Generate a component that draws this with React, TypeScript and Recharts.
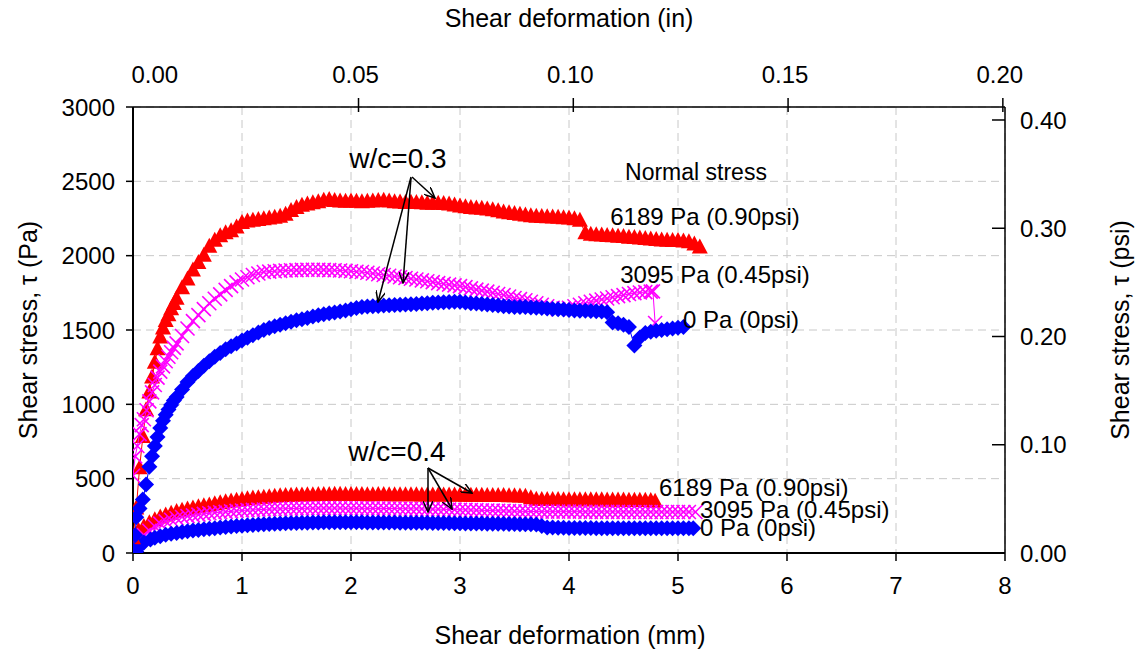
import React from 'react';
import { ScatterChart, Scatter, XAxis, YAxis, CartesianGrid } from 'recharts';

// [shear deformation (mm), shear stress (Pa)]
// w/c = 0.3
const wc03_6189: number[][] = [
  [0, 100], [0.03, 300], [0.06, 570], [0.09, 780], [0.12, 960], [0.15, 1080], [0.175, 1180], [0.2, 1280],
  [0.225, 1370], [0.25, 1450], [0.275, 1510], [0.3, 1560], [0.325, 1600], [0.35, 1640], [0.375, 1675], [0.4, 1710],
  [0.45, 1780], [0.5, 1840], [0.55, 1900], [0.6, 1950], [0.65, 2000], [0.7, 2060], [0.75, 2100], [0.8, 2130],
  [0.85, 2150], [0.9, 2165], [0.95, 2190], [1.0, 2220], [1.05, 2230], [1.1, 2235], [1.15, 2240], [1.2, 2245],
  [1.25, 2250], [1.3, 2255], [1.35, 2262], [1.4, 2275], [1.45, 2300], [1.5, 2320], [1.55, 2335], [1.6, 2345],
  [1.65, 2352], [1.7, 2360], [1.75, 2370], [1.8, 2375], [1.85, 2368], [1.9, 2365], [1.95, 2362], [2.0, 2365],
  [2.05, 2362], [2.1, 2360], [2.15, 2363], [2.2, 2365], [2.25, 2368], [2.3, 2370], [2.35, 2365], [2.4, 2360],
  [2.45, 2358], [2.5, 2355], [2.55, 2356], [2.6, 2355], [2.65, 2352], [2.7, 2350], [2.75, 2350], [2.8, 2350],
  [2.85, 2348], [2.9, 2345], [2.95, 2338], [3.0, 2330], [3.05, 2325], [3.1, 2320], [3.15, 2318], [3.2, 2315],
  [3.25, 2310], [3.3, 2305], [3.35, 2298], [3.4, 2290], [3.45, 2285], [3.5, 2280], [3.55, 2275], [3.6, 2270],
  [3.65, 2265], [3.7, 2262], [3.75, 2260], [3.8, 2258], [3.85, 2256], [3.9, 2255], [3.95, 2252], [4.0, 2250],
  [4.05, 2245], [4.1, 2235], [4.15, 2150], [4.2, 2140], [4.25, 2138], [4.3, 2135], [4.35, 2132], [4.4, 2130],
  [4.45, 2128], [4.5, 2125], [4.55, 2120], [4.6, 2118], [4.65, 2115], [4.7, 2112], [4.75, 2108], [4.8, 2105],
  [4.85, 2102], [4.9, 2100], [4.95, 2099], [5.0, 2098], [5.05, 2095], [5.1, 2090], [5.15, 2075], [5.2, 2055],
];
const wc03_3095: number[][] = [
  [0, 520], [0.02, 650], [0.04, 720], [0.06, 800], [0.08, 860], [0.1, 900], [0.125, 960], [0.15, 1020],
  [0.175, 1080], [0.2, 1130], [0.225, 1180], [0.25, 1220], [0.275, 1255], [0.3, 1290], [0.325, 1320], [0.35, 1350],
  [0.375, 1380], [0.4, 1410], [0.45, 1460], [0.5, 1510], [0.55, 1560], [0.6, 1600], [0.65, 1640], [0.7, 1680],
  [0.75, 1710], [0.8, 1740], [0.85, 1770], [0.9, 1795], [0.95, 1820], [1.0, 1840], [1.05, 1855], [1.1, 1870],
  [1.15, 1880], [1.2, 1890], [1.25, 1893], [1.3, 1895], [1.35, 1898], [1.4, 1900], [1.45, 1902], [1.5, 1903],
  [1.55, 1904], [1.6, 1905], [1.65, 1905], [1.7, 1905], [1.75, 1904], [1.8, 1903], [1.85, 1902], [1.9, 1900],
  [1.95, 1898], [2.0, 1895], [2.05, 1892], [2.1, 1890], [2.15, 1885], [2.2, 1880], [2.25, 1875], [2.3, 1870],
  [2.35, 1865], [2.4, 1860], [2.45, 1855], [2.5, 1850], [2.55, 1845], [2.6, 1840], [2.65, 1834], [2.7, 1828],
  [2.75, 1822], [2.8, 1815], [2.85, 1810], [2.9, 1805], [2.95, 1800], [3.0, 1795], [3.05, 1788], [3.1, 1780],
  [3.15, 1772], [3.2, 1765], [3.25, 1758], [3.3, 1750], [3.35, 1742], [3.4, 1735], [3.45, 1725], [3.5, 1715],
  [3.55, 1708], [3.6, 1700], [3.65, 1690], [3.7, 1680], [3.75, 1670], [3.8, 1660], [3.85, 1650], [3.9, 1640],
  [3.95, 1645], [4.0, 1650], [4.05, 1660], [4.1, 1670], [4.15, 1680], [4.2, 1690], [4.25, 1698], [4.3, 1705],
  [4.35, 1712], [4.4, 1720], [4.45, 1728], [4.5, 1735], [4.55, 1742], [4.6, 1748], [4.65, 1752], [4.7, 1755],
  [4.75, 1758], [4.77, 1760], [4.79, 1547],
];
const wc03_0: number[][] = [
  [0, 20], [0.02, 120], [0.03, 240], [0.06, 300], [0.09, 360], [0.12, 460], [0.15, 580], [0.175, 650],
  [0.2, 720], [0.225, 780], [0.25, 840], [0.275, 890], [0.3, 930], [0.325, 965], [0.35, 995], [0.375, 1025],
  [0.4, 1050], [0.45, 1100], [0.5, 1150], [0.55, 1190], [0.6, 1225], [0.65, 1260], [0.7, 1290], [0.75, 1320],
  [0.8, 1345], [0.85, 1370], [0.9, 1390], [0.95, 1410], [1.0, 1430], [1.05, 1448], [1.1, 1465], [1.15, 1483],
  [1.2, 1500], [1.25, 1513], [1.3, 1525], [1.35, 1535], [1.4, 1545], [1.45, 1555], [1.5, 1565], [1.55, 1572],
  [1.6, 1580], [1.65, 1590], [1.7, 1600], [1.75, 1606], [1.8, 1612], [1.85, 1618], [1.9, 1625], [1.95, 1632],
  [2.0, 1640], [2.05, 1648], [2.1, 1655], [2.15, 1658], [2.2, 1660], [2.25, 1662], [2.3, 1665], [2.35, 1667],
  [2.4, 1668], [2.45, 1670], [2.5, 1672], [2.55, 1673], [2.6, 1675], [2.65, 1678], [2.7, 1680], [2.75, 1683],
  [2.8, 1685], [2.85, 1687], [2.9, 1688], [2.95, 1690], [3.0, 1690], [3.05, 1685], [3.1, 1680], [3.15, 1678],
  [3.2, 1675], [3.25, 1672], [3.3, 1668], [3.35, 1664], [3.4, 1660], [3.45, 1658], [3.5, 1655], [3.55, 1655],
  [3.6, 1655], [3.65, 1652], [3.7, 1650], [3.75, 1648], [3.8, 1645], [3.85, 1642], [3.9, 1640], [3.95, 1638],
  [4.0, 1635], [4.05, 1632], [4.1, 1630], [4.15, 1629], [4.2, 1628], [4.25, 1626], [4.3, 1625], [4.35, 1620],
  [4.4, 1550], [4.45, 1545], [4.5, 1535], [4.55, 1520], [4.6, 1395], [4.65, 1450], [4.7, 1480], [4.75, 1488],
  [4.8, 1495], [4.85, 1500], [4.9, 1505], [4.95, 1510], [5.0, 1515], [5.05, 1520],
];

// w/c = 0.4
const wc04_6189: number[][] = [
  [0, 60], [0.02, 110], [0.05, 150], [0.1, 175], [0.15, 200], [0.2, 220], [0.25, 238], [0.3, 252],
  [0.35, 264], [0.4, 275], [0.45, 284], [0.5, 292], [0.55, 300], [0.6, 307], [0.65, 314], [0.7, 320],
  [0.75, 328], [0.8, 335], [0.85, 341], [0.9, 347], [0.95, 352], [1.0, 357], [1.05, 362], [1.1, 366],
  [1.15, 369], [1.2, 372], [1.25, 375], [1.3, 378], [1.35, 381], [1.4, 383], [1.45, 385], [1.5, 386],
  [1.55, 387], [1.6, 388], [1.65, 389], [1.7, 390], [1.75, 390], [1.8, 390], [1.85, 391], [1.9, 391],
  [1.95, 390], [2.0, 390], [2.05, 390], [2.1, 390], [2.15, 389], [2.2, 389], [2.25, 390], [2.3, 390],
  [2.35, 389], [2.4, 389], [2.45, 388], [2.5, 388], [2.55, 388], [2.6, 388], [2.65, 387], [2.7, 387],
  [2.75, 387], [2.8, 387], [2.85, 386], [2.9, 386], [2.95, 386], [3.0, 386], [3.05, 385], [3.1, 385],
  [3.15, 385], [3.2, 385], [3.25, 384], [3.3, 384], [3.35, 383], [3.4, 383], [3.45, 382], [3.5, 382],
  [3.55, 380], [3.6, 378], [3.65, 368], [3.7, 358], [3.75, 357], [3.8, 356], [3.85, 356], [3.9, 356],
  [3.95, 355], [4.0, 355], [4.05, 355], [4.1, 355], [4.15, 354], [4.2, 354], [4.25, 354], [4.3, 354],
  [4.35, 353], [4.4, 353], [4.45, 353], [4.5, 353], [4.55, 352], [4.6, 352], [4.65, 352], [4.7, 352],
  [4.75, 350], [4.79, 345],
];
const wc04_3095: number[][] = [
  [0, 40], [0.03, 70], [0.06, 90], [0.1, 120], [0.15, 150], [0.2, 178], [0.25, 198], [0.3, 213],
  [0.35, 224], [0.4, 234], [0.45, 242], [0.5, 248], [0.55, 253], [0.6, 258], [0.65, 263], [0.7, 267],
  [0.75, 271], [0.8, 274], [0.85, 277], [0.9, 280], [0.95, 283], [1.0, 286], [1.05, 288], [1.1, 290],
  [1.15, 292], [1.2, 293], [1.25, 295], [1.3, 296], [1.35, 297], [1.4, 298], [1.45, 299], [1.5, 300],
  [1.55, 300], [1.6, 301], [1.65, 301], [1.7, 302], [1.75, 302], [1.8, 302], [1.85, 302], [1.9, 302],
  [1.95, 301], [2.0, 301], [2.05, 301], [2.1, 301], [2.15, 300], [2.2, 300], [2.25, 300], [2.3, 300],
  [2.35, 299], [2.4, 299], [2.45, 298], [2.5, 298], [2.55, 297], [2.6, 297], [2.65, 296], [2.7, 296],
  [2.75, 295], [2.8, 295], [2.85, 294], [2.9, 293], [2.95, 292], [3.0, 291], [3.05, 290], [3.1, 289],
  [3.15, 288], [3.2, 287], [3.25, 286], [3.3, 285], [3.35, 284], [3.4, 283], [3.45, 282], [3.5, 281],
  [3.55, 280], [3.6, 280], [3.65, 279], [3.7, 279], [3.75, 278], [3.8, 278], [3.85, 278], [3.9, 278],
  [3.95, 278], [4.0, 278], [4.05, 278], [4.1, 278], [4.15, 277], [4.2, 277], [4.25, 277], [4.3, 277],
  [4.35, 277], [4.4, 277], [4.45, 277], [4.5, 277], [4.55, 276], [4.6, 276], [4.65, 276], [4.7, 276],
  [4.75, 276], [4.8, 276], [4.85, 276], [4.9, 276], [4.95, 276], [5.0, 276], [5.05, 276], [5.1, 276],
  [5.16, 276],
];
const wc04_0: number[][] = [
  [0, 0], [0.03, 10], [0.06, 45], [0.1, 70], [0.16, 90], [0.2, 102], [0.25, 113], [0.3, 122],
  [0.35, 129], [0.4, 135], [0.45, 141], [0.5, 146], [0.55, 151], [0.6, 155], [0.65, 159], [0.7, 163],
  [0.75, 167], [0.8, 171], [0.85, 175], [0.9, 178], [0.95, 181], [1.0, 184], [1.05, 187], [1.1, 189],
  [1.15, 191], [1.2, 193], [1.25, 195], [1.3, 197], [1.35, 199], [1.4, 200], [1.45, 201], [1.5, 202],
  [1.55, 203], [1.6, 204], [1.65, 205], [1.7, 205], [1.75, 206], [1.8, 206], [1.85, 206], [1.9, 206],
  [1.95, 206], [2.0, 206], [2.05, 206], [2.1, 206], [2.15, 205], [2.2, 205], [2.25, 205], [2.3, 205],
  [2.35, 205], [2.4, 205], [2.45, 204], [2.5, 204], [2.55, 204], [2.6, 204], [2.65, 203], [2.7, 203],
  [2.75, 202], [2.8, 202], [2.85, 201], [2.9, 201], [2.95, 200], [3.0, 200], [3.05, 199], [3.1, 199],
  [3.15, 198], [3.2, 198], [3.25, 197], [3.3, 197], [3.35, 196], [3.4, 196], [3.45, 195], [3.5, 195],
  [3.55, 194], [3.6, 194], [3.65, 193], [3.7, 192], [3.75, 182], [3.8, 172], [3.85, 171], [3.9, 170],
  [3.95, 170], [4.0, 169], [4.05, 169], [4.1, 168], [4.15, 168], [4.2, 168], [4.25, 167], [4.3, 167],
  [4.35, 167], [4.4, 167], [4.45, 166], [4.5, 166], [4.55, 166], [4.6, 166], [4.65, 166], [4.7, 166],
  [4.75, 166], [4.8, 166], [4.85, 166], [4.9, 166], [4.95, 166], [5.0, 166], [5.05, 166], [5.1, 166],
  [5.14, 166],
];

const mmTicks = [0, 1, 2, 3, 4, 5, 6, 7, 8];
const paTicks = [0, 500, 1000, 1500, 2000, 2500, 3000];
const inTicks = [0, 0.05, 0.1, 0.15, 0.2];
const psiTicks = [0, 0.1, 0.2, 0.3, 0.4];

const RED = '#ff0000';
const MAGENTA = '#ff00ff';
const BLUE = '#0000ff';
const FONT = '"Liberation Sans", Arial, sans-serif';

const toPts = (arr: number[][]) => arr.map(([x, y]) => ({ x, y }));

const triangle = (p: any) => (
  <polygon points={`${p.cx},${p.cy - 9} ${p.cx + 8},${p.cy + 6} ${p.cx - 8},${p.cy + 6}`} fill={RED} />
);
const diamond = (p: any) => (
  <polygon points={`${p.cx},${p.cy - 8} ${p.cx + 8},${p.cy} ${p.cx},${p.cy + 8} ${p.cx - 8},${p.cy}`} fill={BLUE} />
);
const cross = (p: any) => (
  <path d={`M${p.cx - 7},${p.cy - 7}L${p.cx + 7},${p.cy + 7}M${p.cx + 7},${p.cy - 7}L${p.cx - 7},${p.cy + 7}`}
    stroke={MAGENTA} strokeWidth={1.6} fill="none" />
);

const TopTick = ({ x, y, payload }: any) => (
  <g>
    {payload.value !== 0 && <line x1={x} y1={y - 9} x2={x} y2={y + 5} stroke="#000" strokeWidth={1.5} />}
    <text x={payload.value === 0 ? x + 11 : x - 3} y={y - 24} textAnchor="middle" fontSize={24} fontFamily={FONT} fill="#000">
      {payload.value.toFixed(2)}
    </text>
  </g>
);

const RightTick = ({ x, y, payload }: any) => (
  <g>
    <line x1={x - 13} y1={y} x2={x} y2={y} stroke="#000" strokeWidth={1.5} />
    <text x={x + 15} y={y + 8.6} textAnchor="start" fontSize={24} fontFamily={FONT} fill="#000">
      {payload.value.toFixed(2)}
    </text>
  </g>
);

const series = [
  { key: 'a', data: wc04_6189, shape: triangle, color: RED },
  { key: 'b', data: wc04_3095, shape: cross, color: MAGENTA },
  { key: 'c', data: wc04_0, shape: diamond, color: BLUE },
  { key: 'd', data: wc03_6189, shape: triangle, color: RED },
  { key: 'e', data: wc03_3095, shape: cross, color: MAGENTA },
  { key: 'f', data: wc03_0, shape: diamond, color: BLUE },
];

// the top (inch) axis has no series of its own, so it gets the tick values as chart data
const inchRows = inTicks.map((v) => ({ inch: v }));

const textStyle = { fontFamily: FONT, fill: '#000' };

export default function App() {
  return (
    <div style={{ position: 'absolute', left: 0, top: 0, width: 1137, height: 652, background: '#fff' }}>
      <ScatterChart width={1137} height={652} data={inchRows} margin={{ top: 67, right: 52, bottom: 59, left: 73 }}>
        <CartesianGrid xAxisId="mm" yAxisId="pa" stroke="#c8c8c8" strokeDasharray="8 5" />
        <XAxis xAxisId="mm" type="number" dataKey="x" domain={[0, 8]} ticks={mmTicks} allowDataOverflow
          height={40} tickSize={8} tickMargin={16} axisLine={{ stroke: '#000', strokeWidth: 2 }}
          tickLine={{ stroke: '#000', strokeWidth: 1.5 }} tick={{ fontSize: 24, fill: '#000', fontFamily: FONT }} />
        <XAxis xAxisId="in" type="number" dataKey="inch" orientation="top" domain={[-0.0025, 0.2005]} ticks={inTicks}
          allowDataOverflow height={40} tickSize={0} tickMargin={0} tickLine={false}
          axisLine={{ stroke: '#000', strokeWidth: 1.5 }} tick={<TopTick />} />
        <YAxis yAxisId="pa" type="number" dataKey="y" domain={[0, 3000]} ticks={paTicks} allowDataOverflow
          width={60} tickSize={7} tickMargin={11} axisLine={{ stroke: '#000', strokeWidth: 2 }}
          tickLine={{ stroke: '#000', strokeWidth: 1.5 }} tick={{ fontSize: 24, fill: '#000', fontFamily: FONT }} />
        <YAxis yAxisId="psi" type="number" orientation="right" domain={[0, 0.412]} ticks={psiTicks} allowDataOverflow
          width={80} tickSize={0} tickMargin={0} tickLine={false} axisLine={{ stroke: '#000', strokeWidth: 1.5 }}
          tick={<RightTick />} />
        {series.map((s) => (
          <Scatter key={s.key} xAxisId="mm" yAxisId="pa" data={toPts(s.data)} shape={s.shape}
            line={{ stroke: s.color, strokeWidth: 1 }} isAnimationActive={false} />
        ))}
      </ScatterChart>
      <svg width={1137} height={652} style={{ position: 'absolute', left: 0, top: 0, pointerEvents: 'none' }}>
        <defs>
          <marker id="ah" viewBox="0 0 12 10" refX="11" refY="5" markerWidth="12" markerHeight="10"
            markerUnits="userSpaceOnUse" orient="auto">
            <path d="M0,0 L11,5 L0,10" fill="none" stroke="#000" strokeWidth={1.5} />
          </marker>
        </defs>
        <text x={569} y={27} textAnchor="middle" fontSize={25} {...textStyle}>Shear deformation (in)</text>
        <text x={570} y={644} textAnchor="middle" fontSize={25} {...textStyle}>Shear deformation (mm)</text>
        <text transform="translate(37,330) rotate(-90)" textAnchor="middle" fontSize={25} {...textStyle}>
          Shear stress, τ (Pa)
        </text>
        <text transform="translate(1129,330) rotate(-90)" textAnchor="middle" fontSize={25} {...textStyle}>
          Shear stress, τ  (psi)
        </text>

        <text x={398} y={168} textAnchor="middle" fontSize={28} {...textStyle}>w/c=0.3</text>
        <g stroke="#000" strokeWidth={1.5}>
          <line x1={412} y1={177} x2={435} y2={198} markerEnd="url(#ah)" />
          <line x1={411} y1={177} x2={378} y2={302} markerEnd="url(#ah)" />
          <line x1={411} y1={178} x2={403} y2={283} markerEnd="url(#ah)" />
        </g>
        <text x={397} y={461} textAnchor="middle" fontSize={28} {...textStyle}>w/c=0.4</text>
        <g stroke="#000" strokeWidth={1.5}>
          <line x1={428} y1={468} x2={472} y2={493} markerEnd="url(#ah)" />
          <line x1={428} y1={468} x2={452} y2={509} markerEnd="url(#ah)" />
          <line x1={428} y1={468} x2={428} y2={512} markerEnd="url(#ah)" />
        </g>

        <text x={696} y={180} textAnchor="middle" fontSize={23} {...textStyle}>Normal stress</text>
        <text x={705} y={225} textAnchor="middle" fontSize={24} {...textStyle}>6189 Pa (0.90psi)</text>
        <text x={715} y={283} textAnchor="middle" fontSize={24} {...textStyle}>3095 Pa (0.45psi)</text>
        <text x={683} y={328} textAnchor="start" fontSize={24} {...textStyle}>0 Pa (0psi)</text>
        <text x={659} y={496} textAnchor="start" fontSize={24} {...textStyle}>6189 Pa (0.90psi)</text>
        <text x={700} y={518} textAnchor="start" fontSize={24} {...textStyle}>3095 Pa (0.45psi)</text>
        <text x={700} y={536} textAnchor="start" fontSize={24} {...textStyle}>0 Pa (0psi)</text>
      </svg>
    </div>
  );
}
